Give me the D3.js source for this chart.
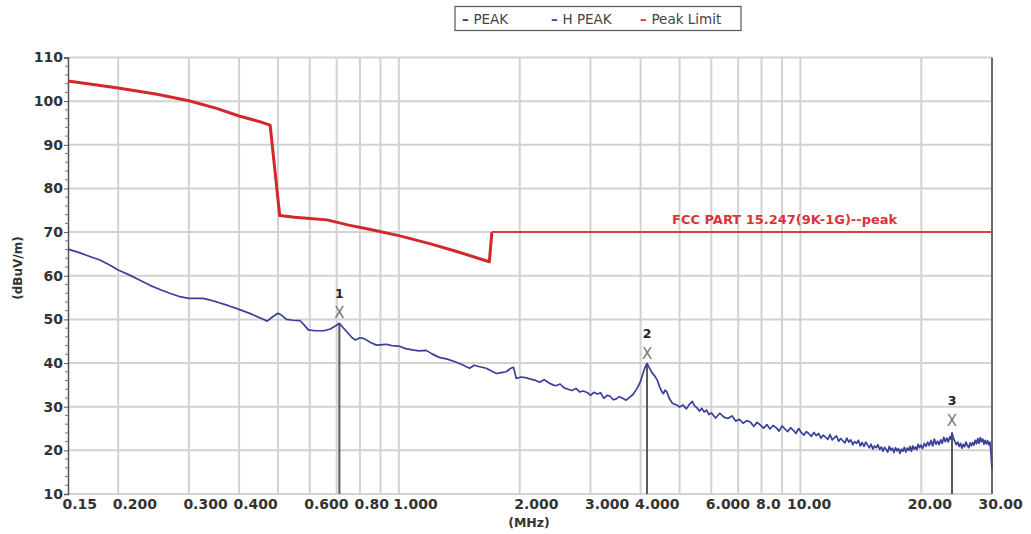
<!DOCTYPE html>
<html><head><meta charset="utf-8">
<script src="https://cdn.jsdelivr.net/npm/d3@7"></script>
<style>
html,body{margin:0;padding:0;background:#fff;}
svg{display:block;}
text{font-family:"DejaVu Sans",sans-serif;}
</style></head>
<body>
<div id="chart"></div>
<script>
// ---------- data ----------
const legendNames = ["PEAK", "H PEAK", "Peak Limit"];
const limitTitle = "FCC PART 15.247(9K-1G)--peak";
const xTitle = "(MHz)";
const yTitle = "(dBuV/m)";

const levelTicks = [10,20,30,40,50,60,70,80,90,100,110];
const freqTicks = [0.15,0.2,0.3,0.4,0.6,0.8,1,2,3,4,6,8,10,20,30];
const freqTickLabels = ["0.15","0.200","0.300","0.400","0.600","0.80","1.000","2.000","3.000","4.000","6.000","8.0","10.00","20.00","30.00"];
const gridFreqs = [0.2,0.3,0.4,0.5,0.6,0.7,0.8,0.9,1,2,3,4,5,6,7,8,9,10,20];

// limit line [MHz, dBuV/m]
const limitLine = [[0.15,104.6],[0.2,103.0],[0.25,101.6],[0.3,100.1],[0.35,98.4],[0.4,96.6],[0.45,95.3],[0.478,94.5],
  [0.505,73.8],[0.55,73.4],[0.6,73.1],[0.662,72.8],[0.75,71.6],[0.85,70.6],[1.0,69.2],[1.2,67.3],[1.4,65.5],[1.68,63.2],
  [1.705,70],[30,70]];

// H PEAK trace [MHz, dBuV/m]
const hPeak = [
 [0.150,66.1],[0.160,65.3],[0.170,64.4],[0.180,63.6],[0.190,62.5],[0.200,61.3],[0.213,60.2],[0.226,59.0],[0.240,57.8],
 [0.255,56.8],[0.269,56.0],[0.285,55.2],[0.300,54.8],[0.325,54.8],[0.340,54.4],[0.352,54.0],[0.375,53.2],[0.400,52.3],
 [0.430,51.2],[0.455,50.2],[0.470,49.6],[0.485,50.6],[0.500,51.4],[0.510,51.0],[0.525,50.0],[0.545,49.8],[0.568,49.7],
 [0.580,48.8],[0.595,47.6],[0.620,47.4],[0.650,47.4],[0.675,47.8],[0.695,48.5],[0.711,49.1],[0.725,48.2],[0.745,47.0],
 [0.765,45.8],[0.780,45.3],[0.800,45.8],[0.820,45.6],[0.850,44.7],[0.880,44.1],[0.930,44.3],[0.960,44.0],[1.00,43.9],
 [1.04,43.3],[1.08,43.0],[1.12,42.8],[1.17,42.9],[1.21,42.1],[1.26,41.3],[1.32,40.9],[1.38,40.3],[1.44,39.6],[1.50,38.8],
 [1.54,39.5],[1.58,39.2],[1.65,38.8],[1.70,38.2],[1.75,37.6],[1.80,37.8],[1.85,38.0],[1.90,38.8],[1.93,39.0],[1.96,36.5],
 [2.02,36.8],[2.08,36.6],[2.13,36.3],[2.18,36.1],[2.24,35.6],[2.30,36.2],[2.36,35.5],[2.42,35.0],[2.46,34.8],[2.52,35.2],
 [2.58,34.3],[2.64,34.0],[2.70,33.7],[2.76,34.2],[2.82,33.4],[2.88,33.6],[2.95,33.2],[3.00,32.6],[3.06,33.3],[3.12,32.9],
 [3.18,33.2],[3.24,31.9],[3.30,32.6],[3.36,32.4],[3.42,31.6],[3.48,31.8],[3.54,32.3],[3.60,32.0],[3.68,31.5],[3.76,32.2],
 [3.83,32.8],[3.92,34.2],[3.99,35.6],[4.06,37.8],[4.11,39.2],[4.15,39.9],[4.20,39.0],[4.27,37.8],[4.34,37.0],[4.40,36.1],
 [4.46,34.6],[4.52,33.4],[4.56,33.0],[4.60,33.8],[4.65,33.4],[4.72,31.8],[4.80,30.8],[4.88,30.5],[4.96,30.2],
 [5.00,29.9],[5.10,30.4],[5.20,29.5],[5.30,30.6],[5.38,31.2],[5.45,30.2],[5.52,29.8],[5.60,29.0],[5.68,29.6],[5.76,28.8],
 [5.84,29.2],[5.92,28.2],[6.00,28.6],[6.15,27.4],[6.30,28.5],[6.45,27.6],[6.60,27.3],[6.75,27.9],[6.90,26.7],[7.05,27.1],
 [7.20,26.2],[7.35,26.8],[7.50,26.5],[7.65,25.5],[7.80,26.4],[7.95,25.8],[8.10,25.1],[8.25,25.9],[8.40,24.9],[8.55,25.7],
 [8.70,25.2],[8.85,24.4],[9.00,25.6],[9.15,24.9],[9.30,24.3],[9.45,25.2],[9.60,24.6],[9.75,23.9],[9.90,25.0],[10.05,24.1],
 [10.20,23.5],[10.35,24.3],[10.50,23.8],[10.65,23.2],[10.80,24.1],[10.95,23.4],[11.10,23.9],[11.25,22.8],[11.40,23.5],
 [11.55,23.0],[11.70,22.5],[11.85,23.6],[12.00,22.4],[12.15,22.9],[12.30,23.3],[12.45,22.1],[12.60,22.7],[12.75,22.2],
 [12.90,21.7],[13.05,22.8],[13.20,21.9],[13.35,22.4],[13.50,21.3],[13.65,22.0],[13.80,21.6],[13.95,22.3],[14.10,21.0],
 [14.25,21.8],[14.40,20.9],[14.55,21.9],[14.70,21.2],[14.85,20.6],[15.00,21.4],[15.15,20.3],[15.30,21.0],[15.45,20.6],
 [15.60,21.3],[15.75,20.2],[15.90,20.8],[16.05,19.8],[16.20,20.7],[16.35,20.2],[16.50,19.6],[16.65,20.9],[16.80,20.0],
 [16.95,20.5],[17.10,19.5],[17.25,20.6],[17.40,19.9],[17.55,20.4],[17.70,19.3],[17.85,20.3],[18.00,19.8],[18.15,20.7],
 [18.30,19.6],[18.45,20.5],[18.60,20.0],[18.75,20.9],[18.90,19.8],[19.05,21.0],[19.20,20.3],[19.35,20.8],[19.50,20.1],
 [19.65,21.4],[19.80,20.6],[19.95,21.2],[20.15,20.4],[20.35,21.6],[20.55,20.9],[20.75,21.9],[20.95,21.1],[21.15,22.3],
 [21.35,21.0],[21.55,22.6],[21.75,21.4],[21.95,22.1],[22.15,21.3],[22.35,22.4],[22.55,21.6],[22.75,23.0],[22.95,22.0],
 [23.15,22.8],[23.35,21.9],[23.55,23.1],[23.70,22.6],[23.85,24.0],[24.05,22.8],[24.25,22.0],[24.45,21.3],[24.65,21.9],
 [24.85,20.9],[25.05,21.6],[25.25,20.5],[25.45,21.4],[25.65,20.8],[25.85,21.9],[26.05,21.1],[26.25,20.6],[26.45,21.7],
 [26.65,21.0],[26.85,21.8],[27.05,21.2],[27.25,22.3],[27.45,21.5],[27.65,22.7],[27.85,21.6],[28.05,22.9],[28.25,22.0],
 [28.45,22.6],[28.65,21.4],[28.85,22.3],[29.05,21.5],[29.25,22.2],[29.45,21.3],[29.65,21.9],[29.80,19.8],[29.92,17.2],[30.0,15.8]
];

// markers: number, frequency, marker level (X), trace peak level
const markerIds = ["1","2","3"];
const markerFreqs = [0.711, 4.15, 23.85];
const markerLevels = [51.5, 42.2, 26.9];
const markerPeaks = [49.1, 39.9, 24.0];

// ---------- drawing ----------
const W = 1031, H = 534;
const svg = d3.select("#chart").append("svg").attr("width", W).attr("height", H);

const x = d3.scaleLog().domain([0.15, 30]).range([68, 992]);
const y = d3.scaleLinear().domain([10, 110]).range([494, 57.5]);

const gridColor = "#d2d2d2";

// horizontal grid
svg.append("g").selectAll("line").data(levelTicks).join("line")
  .attr("x1", x(0.15)).attr("x2", x(30))
  .attr("y1", d => y(d)).attr("y2", d => y(d))
  .attr("stroke", gridColor).attr("stroke-width", 2);

// vertical grid
svg.append("g").selectAll("line").data(gridFreqs).join("line")
  .attr("x1", d => x(d)).attr("x2", d => x(d))
  .attr("y1", y(110)).attr("y2", y(10))
  .attr("stroke", gridColor).attr("stroke-width", 2);

// right border
svg.append("line").attr("x1", x(30)).attr("x2", x(30)).attr("y1", y(110)).attr("y2", y(10))
  .attr("stroke", "#6a6a6a").attr("stroke-width", 2);

// y axis
const yAxis = d3.axisLeft(y).tickValues(levelTicks).tickSize(4).tickFormat(d3.format("d"));
const gy = svg.append("g").attr("transform", `translate(${x(0.15)},0)`).call(yAxis);
gy.select(".domain").attr("stroke", "#555").attr("stroke-width", 1.5);
gy.selectAll(".tick line").attr("stroke", "#555");
gy.selectAll(".tick text").attr("font-size", 14).attr("font-weight", "bold").attr("fill", "#333")
  .attr("font-family", "DejaVu Sans").attr("x", -5);
// minor ticks
const minor = d3.range(10, 111, 2).filter(v => v % 10 !== 0);
svg.append("g").selectAll("line").data(minor).join("line")
  .attr("x1", x(0.15) - 3).attr("x2", x(0.15)).attr("y1", d => y(d)).attr("y2", d => y(d))
  .attr("stroke", "#777").attr("stroke-width", 1);

// x axis labels
const xAxis = d3.axisBottom(x).tickValues(freqTicks).tickSize(0)
  .tickFormat((d, i) => freqTickLabels[i]);
const gx = svg.append("g").attr("transform", `translate(0,${y(10)})`).call(xAxis);
gx.select(".domain").remove();
gx.selectAll(".tick text").attr("font-size", 14).attr("font-weight", "bold").attr("fill", "#333")
  .attr("font-family", "DejaVu Sans").attr("text-anchor", "start")
  .attr("dx", d => d >= 10 ? -14 : -6).attr("y", 5);

svg.append("text").text(xTitle).attr("x", 529).attr("y", 527).attr("text-anchor", "middle")
  .attr("font-size", 12.5).attr("font-weight", "bold").attr("fill", "#333");
svg.append("text").text(yTitle).attr("transform", "translate(22,268) rotate(-90)").attr("text-anchor", "middle")
  .attr("font-size", 12).attr("font-weight", "bold").attr("fill", "#333");

// limit line
const line = d3.line().x(d => x(d[0])).y(d => y(d[1]));
svg.append("path").datum(limitLine.filter(d => d[0] <= 1.705)).attr("d", line)
  .attr("fill", "none").attr("stroke", "#d0282c").attr("stroke-width", 3).attr("stroke-linejoin", "round");
svg.append("path").datum(limitLine.filter(d => d[0] >= 1.705)).attr("d", line)
  .attr("fill", "none").attr("stroke", "#de3a3a").attr("stroke-width", 2);
svg.append("text").text(limitTitle).attr("x", 672).attr("y", 224)
  .attr("font-size", 13).attr("font-weight", "bold").attr("fill", "#d8353a");

// marker lines
svg.append("g").selectAll("line").data(markerFreqs).join("line")
  .attr("x1", d => x(d)).attr("x2", d => x(d))
  .attr("y1", (d, i) => y(markerPeaks[i])).attr("y2", y(10))
  .attr("stroke", "#5a5a5a").attr("stroke-width", 2);

// trace
svg.append("path").datum(hPeak).attr("d", line)
  .attr("fill", "none").attr("stroke", "#3a409a").attr("stroke-width", 1.7).attr("stroke-linejoin", "round");

// marker X and numbers
svg.append("g").selectAll("text").data(markerFreqs).join("text")
  .attr("x", d => x(d)).attr("y", (d, i) => y(markerLevels[i]) + 5.5)
  .attr("text-anchor", "middle").attr("font-size", 15).attr("fill", "#777").text("X");
svg.append("g").selectAll("text").data(markerFreqs).join("text")
  .attr("x", d => x(d)).attr("y", (d, i) => y(markerLevels[i]) - 15)
  .attr("text-anchor", "middle").attr("font-size", 12.5).attr("font-weight", "bold").attr("fill", "#222")
  .text((d, i) => markerIds[i]);

// legend
const lg = svg.append("g");
lg.append("rect").attr("x", 455).attr("y", 6.5).attr("width", 286).attr("height", 24)
  .attr("fill", "#fff").attr("stroke", "#555").attr("stroke-width", 1.2);
const legendX = [462, 551, 640];
const legendColors = ["#3a3d7a", "#3a42a0", "#d8353a"];
legendNames.forEach((n, i) => {
  lg.append("text").attr("x", legendX[i]).attr("y", 23.5).attr("font-size", 13.5).attr("fill", "#444")
    .attr("font-family", "Liberation Sans, Arial, sans-serif")
    .call(t => { t.append("tspan").attr("fill", legendColors[i]).attr("font-weight", "bold").text("– ");
                 t.append("tspan").text(n); });
});
</script>
</body></html>
